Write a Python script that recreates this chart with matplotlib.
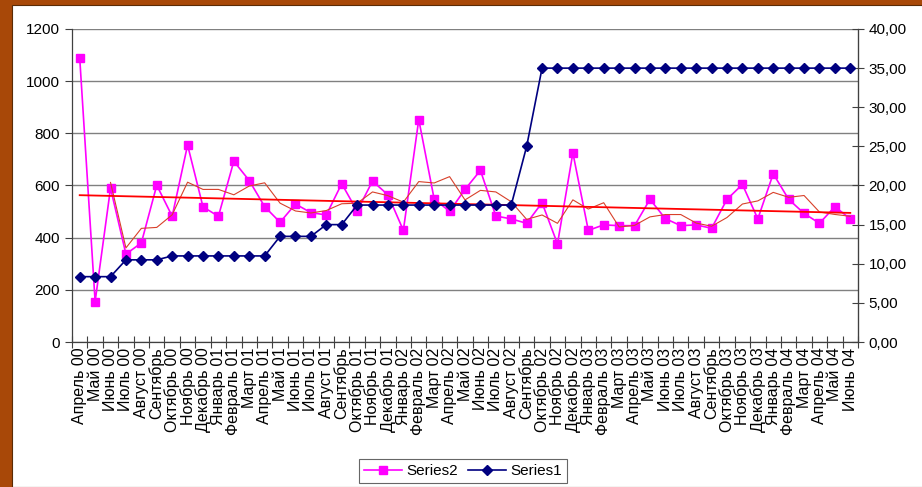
import matplotlib.pyplot as plt
import numpy as np
import pandas as pd
from matplotlib.patches import Rectangle
from matplotlib.ticker import FuncFormatter, MultipleLocator

plt.rcParams['font.family'] = ['Liberation Sans', 'DejaVu Sans']

# Month labels (Apr 2000 - Jun 2004)
months = ["Апрель 00", "Май 00", "Июнь 00", "Июль 00", "Август 00", "Сентябрь",
          "Октябрь 00", "Ноябрь 00", "Декабрь 00", "Январь 01", "Февраль 01",
          "Март 01", "Апрель 01", "Май 01", "Июнь 01", "Июль 01", "Август 01",
          "Сентябрь", "Октябрь 01", "Ноябрь 01", "Декабрь 01", "Январь 02",
          "Февраль 02", "Март 02", "Апрель 02", "Май 02", "Июнь 02", "Июль 02",
          "Август 02", "Сентябрь", "Октябрь 02", "Ноябрь 02", "Декабрь 02",
          "Январь 03", "Февраль 03", "Март 03", "Апрель 03", "Май 03", "Июнь 03",
          "Июль 03", "Август 03", "Сентябрь", "Октябрь 03", "Ноябрь 03",
          "Декабрь 03", "Январь 04", "Февраль 04", "Март 04", "Апрель 04",
          "Май 04", "Июнь 04"]

# Series2 - left axis
series2 = [1090, 155, 590, 337, 380, 601, 482, 755, 518, 482, 693, 619, 519,
           459, 529, 496, 487, 607, 502, 617, 564, 428, 853, 548, 501, 585,
           658, 483, 472, 455, 534, 376, 725, 428, 449, 446, 446, 547, 473,
           446, 449, 436, 547, 604, 472, 645, 547, 493, 455, 519, 472]

# Series1 - right axis
series1 = ([8.35] * 3 + [10.5] * 3 + [11.0] * 7 + [13.5] * 3 + [15.0] * 2 +
           [17.5] * 11 + [25.0] + [35.0] * 21)

x = np.arange(len(months))

fig = plt.figure(figsize=(9.22, 4.87), dpi=100)
fig.patch.set_facecolor('#A84808')
# white chart area
fig.patches.append(Rectangle((12 / 922, 0), 1, 1 - 5 / 487, transform=fig.transFigure,
                             facecolor='white', edgecolor='#5a2a05', lw=0.8, zorder=-10))

ax = fig.add_axes([72 / 922, 1 - 342 / 487, 786 / 922, 313 / 487])
ax.set_facecolor('white')

# trend line + 3-point moving average for Series2
coef = np.polyfit(x, series2, 1)
trend = np.polyval(coef, x)
mavg = pd.Series(series2).rolling(3).mean()

l2, = ax.plot(x, series2, color='#FF00FF', lw=1.2, marker='s', markersize=5.5, label='Series2')
ax.plot(x, mavg, color='#D8402A', lw=0.8, zorder=3)
ax.plot(x, trend, color='#FF0000', lw=1.3, zorder=3)

ax.set_xlim(-0.5, len(months) - 0.5)
ax.set_ylim(0, 1200)
ax.yaxis.set_major_locator(MultipleLocator(200))
ax.grid(axis='y', color='#808080', lw=1.0)
ax.set_axisbelow(True)

ax.set_xticks(x)
ax.set_xticklabels(months, rotation=90, fontsize=11.5)
ax.tick_params(axis='x', length=0, pad=4)
ax.set_xticks(np.arange(-0.5, len(months)), minor=True)
ax.tick_params(axis='x', which='minor', direction='inout', length=8, width=0.8, color='#404040')
ax.tick_params(axis='y', labelsize=11, length=5, width=0.8, color='#404040')

for s in ['top']:
    ax.spines[s].set_visible(False)
for s in ['left', 'bottom', 'right']:
    ax.spines[s].set_color('#404040')
    ax.spines[s].set_linewidth(0.9)

ax2 = ax.twinx()
l1, = ax2.plot(x, series1, color='#000080', lw=1.2, marker='D', markersize=5, label='Series1')
ax2.set_ylim(0, 40)
ax2.yaxis.set_major_locator(MultipleLocator(5))
ax2.yaxis.set_major_formatter(FuncFormatter(lambda v, p: f"{v:.2f}".replace('.', ',')))
ax2.tick_params(axis='y', labelsize=11, direction='inout', length=8, width=0.8, color='#404040')
ax2.spines['top'].set_visible(False)
ax2.spines['left'].set_visible(False)
ax2.spines['bottom'].set_visible(False)
ax2.spines['right'].set_color('#404040')

leg = fig.legend(handles=[l2, l1], loc='center', bbox_to_anchor=(463 / 922, 1 - 471 / 487),
                 ncol=2, fontsize=11, frameon=True, fancybox=False, handlelength=2.5,
                 handletextpad=0.3, columnspacing=0.6, borderpad=0.35)
leg.get_frame().set_edgecolor('#404040')
leg.get_frame().set_linewidth(0.8)

fig.savefig('out.png', dpi=100, facecolor=fig.get_facecolor())
